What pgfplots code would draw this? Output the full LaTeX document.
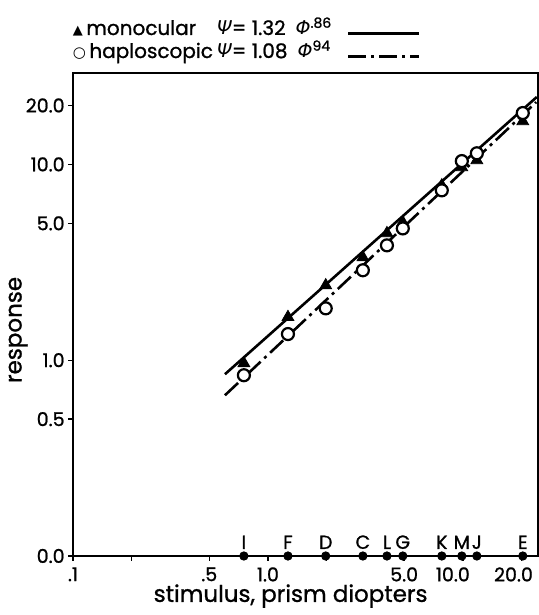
\documentclass[border=0pt]{standalone}
\usepackage{fontspec}
\setmainfont{Poppins}[FakeBold=1.0]
\newfontfamily\dvs{DejaVu Sans}
\usepackage{pgfplots}
\pgfplotsset{compat=1.18}
\pgfplotsset{shiftleg/.style={legend image code/.code={\draw[##1] (0pt,-1.5pt) -- (35.5pt,-1.5pt);}}}

\newcommand{\greek}[1]{{\dvs\itshape\fontsize{9.5}{11}\selectfont #1}}

\begin{document}
\begin{tikzpicture}
\begin{axis}[
    name=ax,
    xmode=log, ymode=log,
    scale only axis,
    width=232.5pt, height=241.5pt,
    xmin=0.1, xmax=24.3,
    ymin=0.1, ymax=29.3,
    clip=false,
    axis line style={line width=0.8pt},
    xtick={0.1,0.2,0.5,1,2,5,10,20},
    xticklabels={.1,,.5,1.0,,5.0,\hspace*{-10pt}10.0,\hspace*{-8pt}20.0},
    ytick={0.1,0.5,1,5,10,20},
    yticklabels={0.0,0.5,1.0,5.0,10.0,20.0},
    xminorticks=false, yminorticks=false,
    tick pos=left,
    tick align=outside,
    major tick length=2.5pt,
    tick style={black, line width=0.7pt},
    /pgf/number format/assume math mode=true,
    ticklabel style={font=\fontsize{9.5}{11}\selectfont},
    yticklabel style={inner sep=1.5pt},
    xticklabel style={inner sep=3pt},
    label style={font=\fontsize{11.5}{13}\selectfont},
    xlabel={stimulus, prism diopters},
    ylabel={response},
    xlabel style={at={(axis description cs:0.468,-0.095)}, anchor=base},
    ylabel style={at={(axis description cs:-0.118,0.468)}, anchor=center},
    legend plot pos=right,
    legend cell align=left,
    legend style={at={(axis description cs:0,1)}, anchor=south west,
        yshift=4pt, draw=none, fill=none, inner sep=0pt, outer sep=0pt,
        row sep=0pt, column sep=0pt,
        font=\fontsize{10}{12}\selectfont,
        nodes={inner sep=0pt, text height=8pt, text depth=3.5pt}},
]
% fitted lines
\addplot[black, line width=1.3pt, shiftleg]
    coordinates {(0.602,0.848) (23.96,22.1)};
\addlegendentry{\makebox[137pt][l]{\makebox[72pt][l]{{\dvs\fontsize{6.5}{7}\selectfont ▲}\,monocular}\greek{Ψ}= 1.32\enspace\greek{Φ}\textsuperscript{.86}}}
\addplot[black, line width=1.3pt, dash pattern=on 9pt off 2.5pt on 1.5pt off 2.5pt, shiftleg]
    coordinates {(0.602,0.662) (23.8,20.8)};
\addlegendentry{\makebox[137pt][l]{\makebox[72pt][l]{{\dvs\fontsize{7.5}{8}\selectfont ○}\,haploscopic}\greek{Ψ}= 1.08\enspace\greek{Φ}\textsuperscript{94}}}

% monocular
\addplot[only marks, mark=triangle*, mark size=3.4pt, black]
    coordinates {(0.753,0.965) (1.267,1.66) (1.98,2.41) (3.07,3.35) (4.08,4.45)
                 (4.92,5.06) (7.80,7.81) (9.88,9.66) (11.8,10.5) (20.3,16.6)};
% haploscopic
\addplot[only marks, mark=*, mark size=3pt,
    mark options={draw=black, fill=white, line width=1.1pt}]
    coordinates {(0.753,0.838) (1.267,1.36) (1.98,1.84) (3.07,2.88) (4.08,3.86)
                 (4.92,4.71) (7.80,7.37) (9.88,10.4) (11.8,11.4) (20.3,18.3)};

% stimulus values along the axis
\addplot[only marks, mark=*, mark size=2.1pt, black,
    nodes near coords, point meta=explicit symbolic,
    every node near coord/.style={anchor=south, font=\fontsize{9.5}{11}\selectfont}]
    table[meta=label] {
x     y    label
0.753 0.1  I
1.267 0.1  F
1.98  0.1  D
3.07  0.1  C
4.08  0.1  L
4.92  0.1  G
7.80  0.1  K
9.88  0.1  M
11.8  0.1  J
20.3  0.1  E
};
\end{axis}
\pgfresetboundingbox
\path[use as bounding box] ([shift={(-36.5pt,-29.5pt)}]ax.south west)
    rectangle ([shift={(0.5pt,36.5pt)}]ax.north east);
\end{tikzpicture}
\end{document}
